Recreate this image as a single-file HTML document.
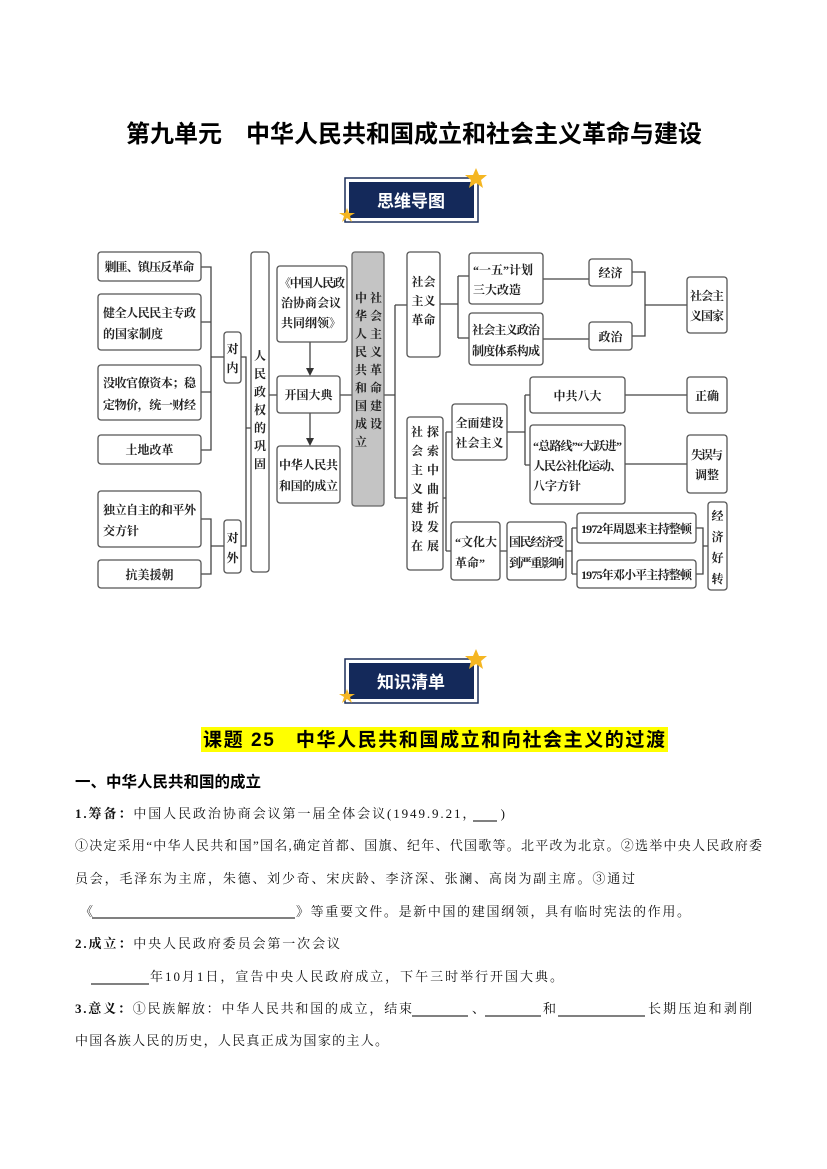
<!DOCTYPE html>
<html><head><meta charset="utf-8"><style>
body{margin:0;background:#fff;}
svg{display:block}
.b{fill:#fff;stroke:#555;stroke-width:1.3}
.t{font-family:"Liberation Serif","Noto Serif CJK SC",serif;font-size:12px;fill:#222;font-weight:bold}
.l{stroke:#444;stroke-width:1.3;fill:none}
.p{font-family:"Liberation Serif","Noto Serif CJK SC",serif;font-size:13px;fill:#111}
.h{font-family:"Liberation Sans","Noto Sans CJK SC",sans-serif;font-weight:bold;fill:#000}
</style></head><body>
<svg width="827" height="1169" viewBox="0 0 827 1169" xmlns="http://www.w3.org/2000/svg">
<text x="414" y="142" text-anchor="middle" class="h" font-size="24">第九单元　中华人民共和国成立和社会主义革命与建设</text>

<g>
<rect x="345" y="178" width="133" height="44" fill="#fff" stroke="#1c2f5a" stroke-width="1.5"/>
<rect x="349" y="182" width="125" height="36" fill="#14295a"/>
<text x="411" y="207" text-anchor="middle" class="h" font-size="17" style="fill:#fff">思维导图</text>
<polygon points="476,168 479,175 487,175 481,180 483,188 476,183 469,188 471,180 465,175 473,175" fill="#f5b622"/>
<polygon points="347,208 349,213 355,213 350,216 352,222 347,218 342,222 344,216 339,213 345,213" fill="#f5b622"/>
</g>
<g>
<rect x="345" y="659" width="133" height="44" fill="#fff" stroke="#1c2f5a" stroke-width="1.5"/>
<rect x="349" y="663" width="125" height="36" fill="#14295a"/>
<text x="411" y="688" text-anchor="middle" class="h" font-size="17" style="fill:#fff">知识清单</text>
<polygon points="476,649 479,656 487,656 481,661 483,669 476,664 469,669 471,661 465,656 473,656" fill="#f5b622"/>
<polygon points="347,689 349,694 355,694 350,697 352,703 347,699 342,703 344,697 339,694 345,694" fill="#f5b622"/>
</g>

<path class="l" d="M201,267 H211 V450 H201 M201,322 H211 M201,392 H211 M211,357 H224"/>
<path class="l" d="M201,519 H211 V574 H201 M211,546 H224"/>
<path class="l" d="M241,357 H246 V546 H241 M246,428 H251"/>
<path class="l" d="M269,395 H277 M340,395 H352"/>
<path class="l" d="M310,342 V372 M310,413 V442"/>
<polygon points="306,368 314,368 310,376" fill="#333"/>
<polygon points="306,438 314,438 310,446" fill="#333"/>
<path class="l" d="M384,395 H395 M395,305 V498 M395,305 H407 M395,498 H407"/>
<path class="l" d="M440,304 H458 M458,276 V338 M458,276 H469 M458,338 H469"/>
<path class="l" d="M543,279 H589 M543,339 H589"/>
<path class="l" d="M632,272 H645 V336 H632 M645,305 H687"/>
<path class="l" d="M443,498 H446 M446,432 V551 M446,432 H452 M446,551 H451"/>
<path class="l" d="M507,432 H525 M525,395 V465 M525,395 H530 M525,465 H530"/>
<path class="l" d="M625,395 H687 M625,464 H687"/>
<path class="l" d="M500,551 H507 M566,551 H572 M572,528 V574 M572,528 H577 M572,574 H577"/>
<path class="l" d="M696,528 H703 V574 H696 M703,546 H708"/>

<rect class="b" x="98" y="252" width="103" height="29" rx="3"/>
<text class="t" x="149.5" y="271" text-anchor="middle" textLength="90">剿匪、镇压反革命</text>
<rect class="b" x="98" y="294" width="103" height="56" rx="3"/>
<text class="t" x="103" y="317" textLength="93">健全人民民主专政</text><text class="t" x="103" y="338">的国家制度</text>
<rect class="b" x="98" y="365" width="103" height="55" rx="3"/>
<text class="t" x="103" y="387" textLength="93">没收官僚资本；稳</text><text class="t" x="103" y="409" textLength="93">定物价，统一财经</text>
<rect class="b" x="98" y="435" width="103" height="29" rx="3"/>
<text class="t" x="149.5" y="454" text-anchor="middle">土地改革</text>
<rect class="b" x="98" y="491" width="103" height="56" rx="3"/>
<text class="t" x="103" y="514" textLength="93">独立自主的和平外</text><text class="t" x="103" y="535">交方针</text>
<rect class="b" x="98" y="560" width="103" height="28" rx="3"/>
<text class="t" x="149.5" y="579" text-anchor="middle">抗美援朝</text>

<rect class="b" x="224" y="332" width="17" height="51" rx="3"/>
<text class="t" x="232.5" y="353" text-anchor="middle">对</text><text class="t" x="232.5" y="372" text-anchor="middle">内</text>
<rect class="b" x="224" y="520" width="17" height="53" rx="3"/>
<text class="t" x="232.5" y="542" text-anchor="middle">对</text><text class="t" x="232.5" y="562" text-anchor="middle">外</text>

<rect class="b" x="251" y="252" width="18" height="320" rx="3"/>
<g class="t" text-anchor="middle">
<text x="260" y="360">人</text><text x="260" y="378">民</text><text x="260" y="396">政</text><text x="260" y="414">权</text><text x="260" y="432">的</text><text x="260" y="450">巩</text><text x="260" y="468">固</text>
</g>

<rect class="b" x="277" y="266" width="70" height="76" rx="3"/>
<text class="t" x="279" y="287" textLength="66">《中国人民政</text><text class="t" x="281" y="307">治协商会议</text><text class="t" x="281" y="327">共同纲领》</text>
<rect class="b" x="277" y="376" width="63" height="37" rx="3"/>
<text class="t" x="308.5" y="399" text-anchor="middle">开国大典</text>
<rect class="b" x="277" y="446" width="63" height="57" rx="3"/>
<text class="t" x="279" y="469" textLength="59">中华人民共</text><text class="t" x="279" y="490" textLength="59">和国的成立</text>

<rect x="352" y="252" width="32" height="254" rx="3" fill="#c4c4c4" stroke="#666" stroke-width="1.3"/>
<g class="t" text-anchor="middle">
<text x="361" y="302">中</text><text x="361" y="320">华</text><text x="361" y="338">人</text><text x="361" y="356">民</text><text x="361" y="374">共</text><text x="361" y="392">和</text><text x="361" y="410">国</text><text x="361" y="428">成</text><text x="361" y="446">立</text>
<text x="376" y="302">社</text><text x="376" y="320">会</text><text x="376" y="338">主</text><text x="376" y="356">义</text><text x="376" y="374">革</text><text x="376" y="392">命</text><text x="376" y="410">建</text><text x="376" y="428">设</text>
</g>

<rect class="b" x="407" y="252" width="33" height="105" rx="3"/>
<g class="t" text-anchor="middle"><text x="423.5" y="286">社会</text><text x="423.5" y="305">主义</text><text x="423.5" y="324">革命</text></g>
<rect class="b" x="469" y="253" width="74" height="51" rx="3"/>
<text class="t" x="473" y="274">“一五”计划</text><text class="t" x="473" y="294">三大改造</text>
<rect class="b" x="469" y="313" width="74" height="52" rx="3"/>
<text class="t" x="472" y="334" textLength="68">社会主义政治</text><text class="t" x="472" y="355" textLength="68">制度体系构成</text>
<rect class="b" x="589" y="259" width="43" height="27" rx="3"/>
<text class="t" x="610.5" y="277" text-anchor="middle">经济</text>
<rect class="b" x="589" y="322" width="43" height="28" rx="3"/>
<text class="t" x="610.5" y="341" text-anchor="middle">政治</text>
<rect class="b" x="687" y="277" width="40" height="56" rx="3"/>
<text class="t" x="707" y="300" text-anchor="middle" textLength="34">社会主</text><text class="t" x="707" y="320" text-anchor="middle" textLength="34">义国家</text>

<rect class="b" x="407" y="417" width="36" height="153" rx="3"/>
<g class="t" text-anchor="middle">
<text x="417" y="436">社</text><text x="417" y="455">会</text><text x="417" y="474">主</text><text x="417" y="493">义</text><text x="417" y="512">建</text><text x="417" y="531">设</text><text x="417" y="550">在</text>
<text x="433" y="436">探</text><text x="433" y="455">索</text><text x="433" y="474">中</text><text x="433" y="493">曲</text><text x="433" y="512">折</text><text x="433" y="531">发</text><text x="433" y="550">展</text>
</g>
<rect class="b" x="452" y="404" width="55" height="56" rx="3"/>
<text class="t" x="479.5" y="427" text-anchor="middle">全面建设</text><text class="t" x="479.5" y="447" text-anchor="middle">社会主义</text>
<rect class="b" x="530" y="377" width="95" height="36" rx="3"/>
<text class="t" x="577.5" y="400" text-anchor="middle">中共八大</text>
<rect class="b" x="530" y="425" width="95" height="79" rx="3"/>
<text class="t" x="533" y="450" textLength="89">“总路线”“大跃进”</text><text class="t" x="533" y="470" textLength="89">人民公社化运动、</text><text class="t" x="533" y="490">八字方针</text>
<rect class="b" x="687" y="377" width="40" height="36" rx="3"/>
<text class="t" x="707" y="400" text-anchor="middle">正确</text>
<rect class="b" x="687" y="435" width="40" height="58" rx="3"/>
<text class="t" x="707" y="459" text-anchor="middle" textLength="32">失误与</text><text class="t" x="707" y="479" text-anchor="middle">调整</text>
<rect class="b" x="451" y="522" width="49" height="58" rx="3"/>
<text class="t" x="455" y="546" textLength="42">“文化大</text><text class="t" x="455" y="567">革命”</text>
<rect class="b" x="507" y="522" width="59" height="58" rx="3"/>
<text class="t" x="509" y="546" textLength="55">国民经济受</text><text class="t" x="509" y="567" textLength="55">到严重影响</text>
<rect class="b" x="577" y="513" width="119" height="30" rx="3"/>
<text class="t" x="636.5" y="533" text-anchor="middle" textLength="111">1972年周恩来主持整顿</text>
<rect class="b" x="577" y="560" width="119" height="28" rx="3"/>
<text class="t" x="636.5" y="579" text-anchor="middle" textLength="111">1975年邓小平主持整顿</text>
<rect class="b" x="708" y="502" width="19" height="88" rx="3"/>
<g class="t" text-anchor="middle"><text x="717.5" y="520">经</text><text x="717.5" y="541">济</text><text x="717.5" y="562">好</text><text x="717.5" y="583">转</text></g>

<rect x="201" y="727" width="467" height="25" fill="#ffff00"/>
<text class="h" x="203" y="746" font-size="19" textLength="462">课题 25　中华人民共和国成立和向社会主义的过渡</text>

<text class="h" x="75" y="787" font-size="15.5">一、中华人民共和国的成立</text>
<text class="p" x="75" y="818" textLength="430"><tspan font-weight="bold">1.筹备：</tspan>中国人民政治协商会议第一届全体会议(1949.9.21，　　)</text>
<line x1="473" y1="821" x2="497" y2="821" stroke="#000"/>
<text class="p" x="75" y="850" textLength="687">①决定采用“中华人民共和国”国名,确定首都、国旗、纪年、代国歌等。北平改为北京。②选举中央人民政府委</text>
<text class="p" x="75" y="883" textLength="560">员会，毛泽东为主席，朱德、刘少奇、宋庆龄、李济深、张澜、高岗为副主席。③通过</text>
<text class="p" x="80" y="916">《</text>
<line x1="92" y1="918" x2="295" y2="918" stroke="#000"/>
<text class="p" x="296" y="916" textLength="394">》等重要文件。是新中国的建国纲领，具有临时宪法的作用。</text>
<text class="p" x="75" y="948" textLength="265"><tspan font-weight="bold">2.成立：</tspan>中央人民政府委员会第一次会议</text>
<line x1="91" y1="984" x2="149" y2="984" stroke="#000"/>
<text class="p" x="150" y="981" textLength="413">年10月1日，宣告中央人民政府成立，下午三时举行开国大典。</text>
<text class="p" x="75" y="1013" textLength="337"><tspan font-weight="bold">3.意义：</tspan>①民族解放：中华人民共和国的成立，结束</text>
<line x1="412" y1="1016" x2="468" y2="1016" stroke="#000"/>
<text class="p" x="472" y="1013">、</text>
<line x1="485" y1="1016" x2="541" y2="1016" stroke="#000"/>
<text class="p" x="543" y="1013">和</text>
<line x1="558" y1="1016" x2="645" y2="1016" stroke="#000"/>
<text class="p" x="648" y="1013" textLength="104">长期压迫和剥削</text>
<text class="p" x="75" y="1045" textLength="313">中国各族人民的历史，人民真正成为国家的主人。</text>
</svg>
</body></html>
